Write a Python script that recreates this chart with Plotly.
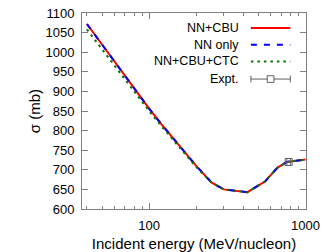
import plotly.graph_objects as go

energy = [40, 50, 60, 70, 80, 100, 120, 150, 200, 250, 300, 425, 550, 660, 760, 1000]
sigma_cbu = [1072, 1019, 976, 940, 908, 856, 816, 769, 710, 668, 650, 643, 670, 705, 720, 726]
sigma_nn = [1072, 1019, 976, 940, 908, 856, 816, 769, 710, 668, 650, 643, 670, 705, 720, 726]
sigma_ctc = [1058, 1007, 965, 931, 900, 850, 811, 765, 707, 668, 650, 643, 670, 705, 720, 726]
expt_energy = [780]
expt_sigma = [720]
expt_err = [20]

legend_labels = ["NN+CBU", "NN only", "NN+CBU+CTC", "Expt."]
y_ticks = list(range(600, 1101, 50))
x_major = [100, 1000]
x_minor = [40, 50, 60, 70, 80, 90, 200, 300, 400, 500, 600, 700, 800, 900]

RED, BLUE, GREEN, GRAY = "#ff0000", "#0000ff", "#007a00", "#606060"
FONT = "Liberation Sans, Arial, sans-serif"

fig = go.Figure()
fig.add_trace(go.Scatter(x=energy, y=sigma_cbu, mode="lines", name=legend_labels[0],
                         line=dict(color=RED, width=2)))
fig.add_trace(go.Scatter(x=energy, y=sigma_nn, mode="lines", name=legend_labels[1],
                         line=dict(color=BLUE, width=2, dash="6px,7px")))
fig.add_trace(go.Scatter(x=energy, y=sigma_ctc, mode="lines", name=legend_labels[2],
                         line=dict(color=GREEN, width=2, dash="2.5px,4px")))
fig.add_trace(go.Scatter(x=expt_energy, y=expt_sigma, mode="markers", name=legend_labels[3],
                         marker=dict(symbol="square-open", size=7, color=GRAY, line=dict(width=1)),
                         error_x=dict(type="data", array=expt_err, color=GRAY, thickness=1, width=3)))

# gnuplot-style key (text right-aligned, sample to the right)
rows_y = [0.923, 0.838, 0.753, 0.663]
x_text = 0.709
x0, x1 = 0.754, 0.930
for lab, yy in zip(legend_labels, rows_y):
    fig.add_annotation(x=x_text, y=yy, xref="paper", yref="paper", text=lab,
                       showarrow=False, xanchor="right", yanchor="middle",
                       font=dict(family=FONT, size=12.5, color="black"))
styles = [dict(color=RED, width=2), dict(color=BLUE, width=2, dash="6px,7px"),
          dict(color=GREEN, width=2, dash="2.5px,4px")]
for st, yy in zip(styles, rows_y[:3]):
    fig.add_shape(type="line", xref="paper", yref="paper", x0=x0, x1=x1, y0=yy, y1=yy, line=st)
ye = rows_y[3]
fig.add_shape(type="line", xref="paper", yref="paper", x0=x0, x1=x1, y0=ye, y1=ye,
              line=dict(color=GRAY, width=1))
for xc in (x0, x1):
    fig.add_shape(type="line", xref="paper", yref="paper", x0=xc, x1=xc, y0=ye - 0.017, y1=ye + 0.017,
                  line=dict(color=GRAY, width=1))
xm = (x0 + x1) / 2
fig.add_shape(type="rect", xref="paper", yref="paper", x0=xm - 0.015, x1=xm + 0.015,
              y0=ye - 0.017, y1=ye + 0.017, line=dict(color=GRAY, width=1), fillcolor="white")

axis_common = dict(showline=True, linecolor="#808080", linewidth=1, mirror="allticks",
                   ticks="inside", tickcolor="#808080", showgrid=False, zeroline=False,
                   automargin=False,
                   tickfont=dict(family=FONT, size=13, color="black"))

fig.update_xaxes(type="log", range=[1.5705, 3.003], tickmode="array", tickvals=x_major,
                 ticktext=[str(v) for v in x_major], ticklen=6, ticklabelstandoff=4,
                 minor=dict(tickmode="array", tickvals=x_minor, ticks="inside", ticklen=3,
                            tickcolor="#808080", showgrid=False),
                 title=dict(text="Incident energy (MeV/nucleon)", standoff=6,
                            font=dict(family=FONT, size=15, color="black")),
                 **axis_common)
fig.update_yaxes(range=[600, 1100], tickmode="array", tickvals=y_ticks, ticklen=6, ticklabelstandoff=4,
                 title=dict(text="σ (mb)", standoff=1, font=dict(family=FONT, size=15, color="black")),
                 **axis_common)

fig.update_layout(width=324, height=252, margin=dict(l=82, r=18, t=13, b=43),
                  plot_bgcolor="white", paper_bgcolor="white", showlegend=False)

# remove the default page margin so the 324x252 figure fills the window exactly
fig.write_html("out.html", config={"displayModeBar": False},
               post_script="document.body.style.margin='0';")
